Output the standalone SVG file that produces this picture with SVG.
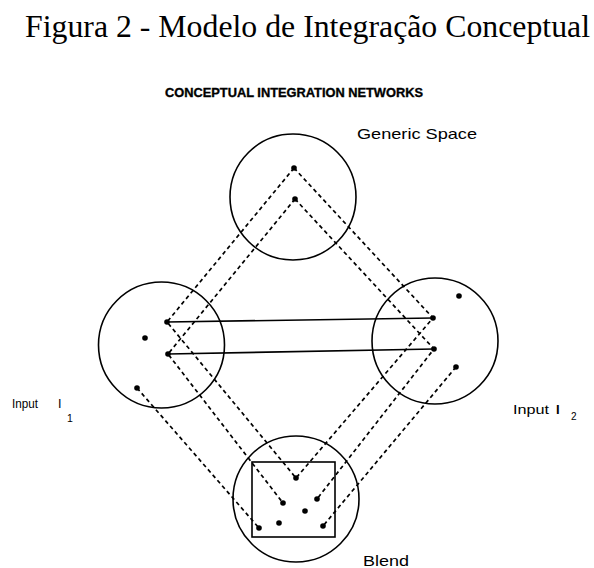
<svg xmlns="http://www.w3.org/2000/svg" width="594" height="568" viewBox="0 0 594 568">
<style>
.c{fill:none;stroke:#000;stroke-width:1.6}
.d{fill:none;stroke:#000;stroke-width:1.7;stroke-dasharray:4 3.2}
.s{fill:none;stroke:#000;stroke-width:1.6}
.p{fill:#000}
.lab{font-family:"Liberation Sans",Arial,sans-serif;fill:#000}
</style>
<rect width="594" height="568" fill="#fff"/>
<text x="25" y="37" font-family="'Liberation Serif','Times New Roman',serif" font-size="32" textLength="565" lengthAdjust="spacingAndGlyphs">Figura 2 - Modelo de Integração Conceptual</text>
<text class="lab" x="165" y="97" font-size="13" font-weight="bold" stroke="#000" stroke-width="0.35" textLength="258" lengthAdjust="spacingAndGlyphs">CONCEPTUAL INTEGRATION NETWORKS</text>
<g id="connectors">
<path class="d" d="M294,168 L167,322 L296,478"/>
<path class="d" d="M295,199 L168,354 L283,503"/>
<path class="d" d="M137,388 L259,528"/>
<path class="d" d="M294,168 L433,318 L296,478"/>
<path class="d" d="M295,199 L434,349 L317,499"/>
<path class="d" d="M456,367 L323,526"/>
<path class="s" d="M167,322 L433,318"/>
<path class="s" d="M168,354 L434,349"/>
</g>
<g id="generic">
<circle class="c" cx="293" cy="197" r="63"/>
<circle class="p" cx="294" cy="168" r="2.8"/>
<circle class="p" cx="295" cy="199" r="2.8"/>
<text class="lab" x="357" y="139" font-size="15" textLength="120" lengthAdjust="spacingAndGlyphs">Generic Space</text>
</g>
<g id="input1">
<circle class="c" cx="161.5" cy="345" r="63"/>
<circle class="p" cx="167" cy="322" r="2.8"/>
<circle class="p" cx="145" cy="338" r="2.8"/>
<circle class="p" cx="168" cy="354" r="2.8"/>
<circle class="p" cx="137" cy="388" r="2.8"/>
<text class="lab" x="12" y="408" font-size="12.5" textLength="26" lengthAdjust="spacingAndGlyphs">Input</text>
<text class="lab" x="58" y="408" font-size="12.5">I</text>
<text class="lab" x="67" y="422" font-size="10.5">1</text>
</g>
<g id="input2">
<circle class="c" cx="435" cy="341" r="63"/>
<circle class="p" cx="433" cy="318" r="2.8"/>
<circle class="p" cx="459" cy="296" r="2.8"/>
<circle class="p" cx="434" cy="349" r="2.8"/>
<circle class="p" cx="456" cy="367" r="2.8"/>
<text class="lab" x="513" y="414" font-size="13" textLength="36" lengthAdjust="spacingAndGlyphs">Input</text>
<text class="lab" x="556" y="414" font-size="13" font-weight="bold">I</text>
<text class="lab" x="571" y="420" font-size="10">2</text>
</g>
<g id="blend">
<circle class="c" cx="296" cy="499" r="63"/>
<rect class="c" x="252" y="462" width="83" height="75"/>
<circle class="p" cx="296" cy="478" r="2.8"/>
<circle class="p" cx="283" cy="503" r="2.8"/>
<circle class="p" cx="317" cy="499" r="2.8"/>
<circle class="p" cx="305" cy="511" r="2.8"/>
<circle class="p" cx="279" cy="523" r="2.8"/>
<circle class="p" cx="259" cy="528" r="2.8"/>
<circle class="p" cx="323" cy="526" r="2.8"/>
<text class="lab" x="363" y="566" font-size="14" textLength="46" lengthAdjust="spacingAndGlyphs">Blend</text>
</g>
</svg>
